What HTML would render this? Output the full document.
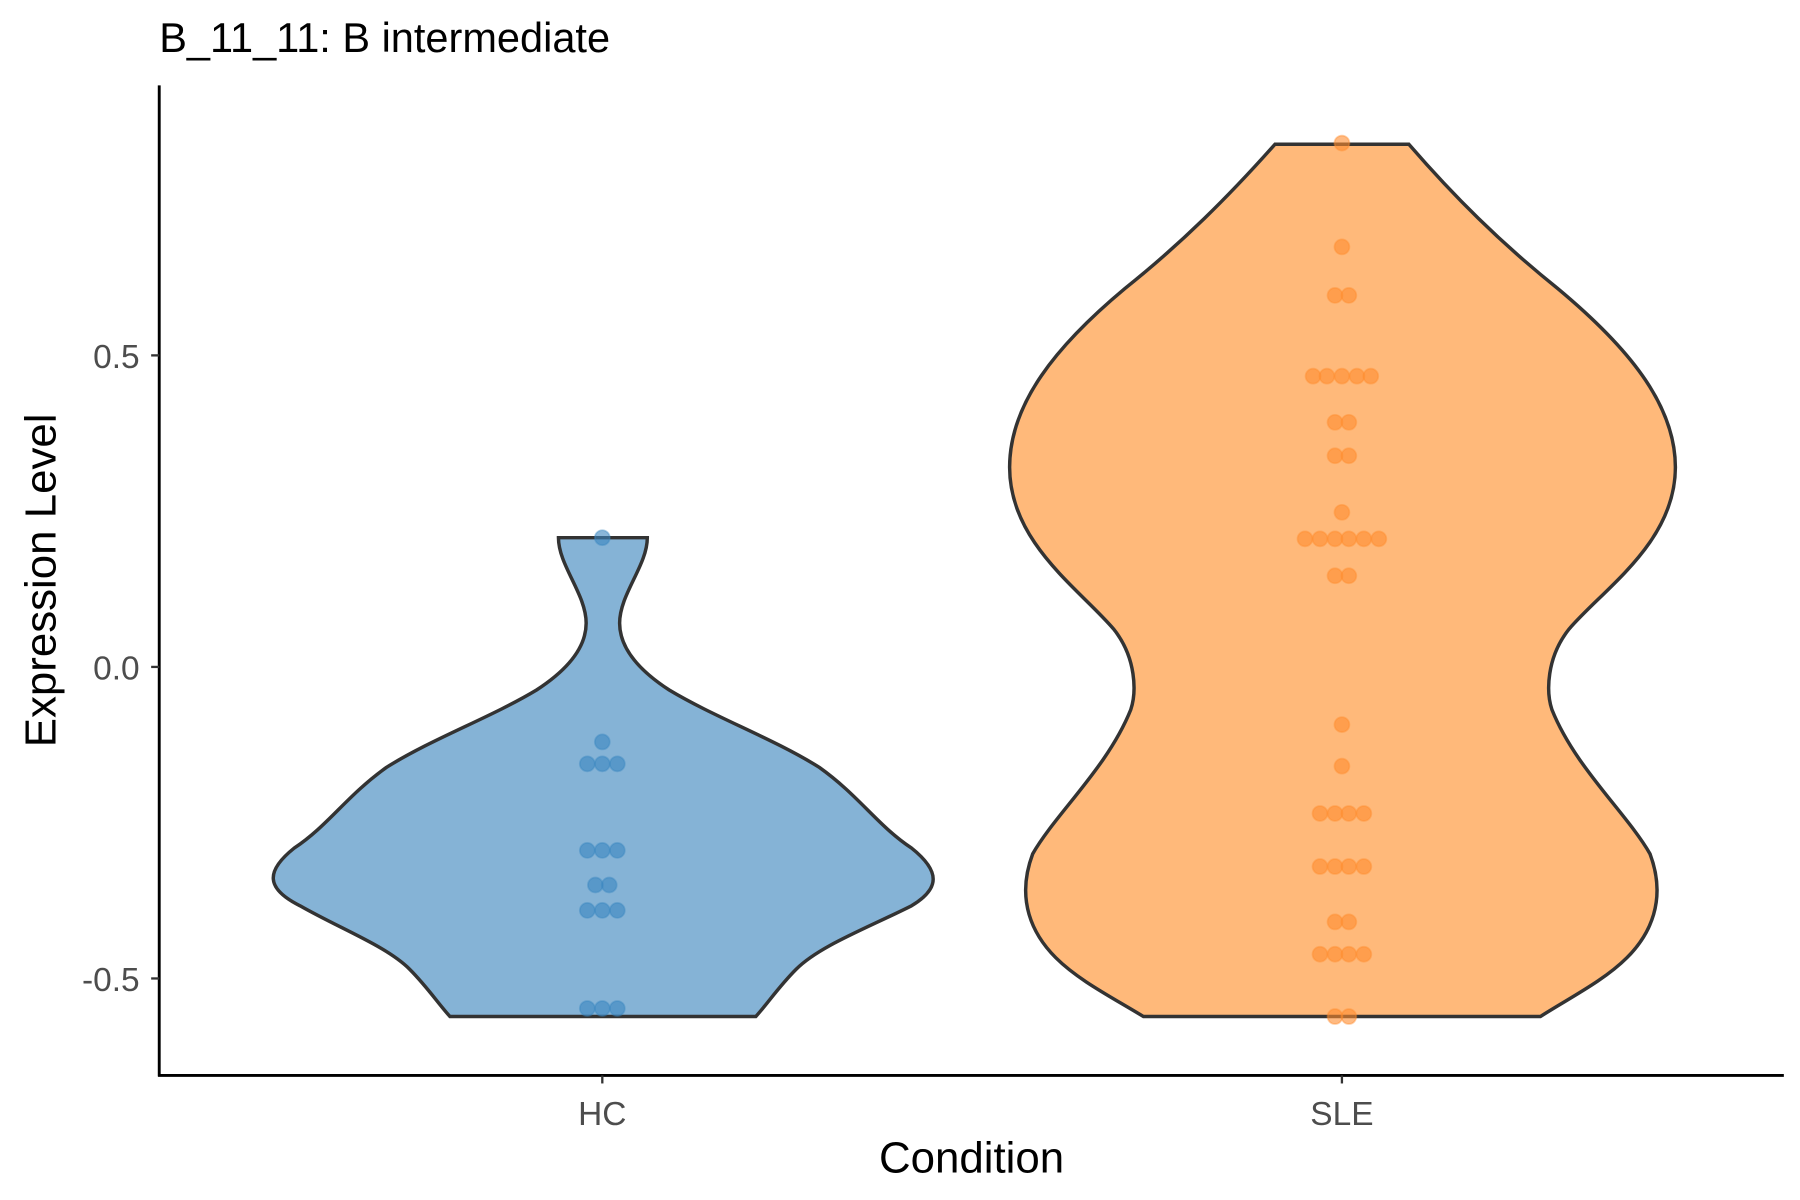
<!DOCTYPE html>
<html><head><meta charset="utf-8"><style>html,body{margin:0;padding:0;background:#fff}svg{display:block}</style></head>
<body>
<svg width="1800" height="1200" viewBox="0 0 1560 1040" xmlns="http://www.w3.org/2000/svg" font-family="Liberation Sans, Arial, sans-serif">
<rect width="1560" height="1040" fill="#fff"/>
<text x="138" y="45" font-size="36" fill="#000">B_11_11: B intermediate</text>
<!-- HC violin -->
<path d="M484,466 L561,466 C561,490 537,515 537,540 C537,565 560,585 580,598 C620,622 670,640 710,665 C745,690 760,715 790,735 C815,755 815,770 790,785 C750,805 710,820 690,840 C675,855 665,870 655,881 L390,881 C380,870 370,855 355,840 C335,820 295,805 260,785 C230,770 230,755 255,735 C285,715 300,690 335,665 C375,640 425,622 465,598 C485,585 508,565 508,540 C508,515 484,490 484,466 Z" fill="#85b3d6" stroke="#333" stroke-width="3"/>
<!-- SLE violin -->
<path d="M1105,125 L1221,125 C1260,170 1300,210 1350,250 C1410,300 1452,350 1452,405 C1452,470 1390,510 1360,545 C1340,570 1340,600 1345,615 C1365,665 1410,705 1430,740 C1445,780 1430,810 1410,830 C1390,850 1360,865 1335,881 L991,881 C965,865 935,850 915,830 C895,810 880,780 895,740 C915,705 960,665 980,615 C985,600 985,570 965,545 C935,510 875,470 875,405 C875,350 915,300 975,250 C1025,210 1065,170 1105,125 Z" fill="#ffb97a" stroke="#333" stroke-width="3"/>
<!-- HC dots -->
<g fill="#3a86c0" fill-opacity="0.6" stroke="#3a86c0" stroke-opacity="0.4" stroke-width="1.5">
<circle cx="522" cy="466" r="6.5"/>
<circle cx="522" cy="643" r="6.5"/>
<circle cx="509" cy="662" r="6.5"/><circle cx="522" cy="662" r="6.5"/><circle cx="535" cy="662" r="6.5"/>
<circle cx="509" cy="737" r="6.5"/><circle cx="522" cy="737" r="6.5"/><circle cx="535" cy="737" r="6.5"/>
<circle cx="516" cy="767" r="6.5"/><circle cx="528" cy="767" r="6.5"/>
<circle cx="509" cy="789" r="6.5"/><circle cx="522" cy="789" r="6.5"/><circle cx="535" cy="789" r="6.5"/>
<circle cx="509" cy="874" r="6.5"/><circle cx="522" cy="874" r="6.5"/><circle cx="535" cy="874" r="6.5"/>
</g>
<!-- SLE dots -->
<g fill="#ff8c2e" fill-opacity="0.6" stroke="#ff8c2e" stroke-opacity="0.4" stroke-width="1.5">
<circle cx="1163" cy="124" r="6.5"/>
<circle cx="1163" cy="214" r="6.5"/>
<circle cx="1157" cy="256" r="6.5"/><circle cx="1169" cy="256" r="6.5"/>
<circle cx="1138" cy="326" r="6.5"/><circle cx="1150" cy="326" r="6.5"/><circle cx="1163" cy="326" r="6.5"/><circle cx="1176" cy="326" r="6.5"/><circle cx="1188" cy="326" r="6.5"/>
<circle cx="1157" cy="366" r="6.5"/><circle cx="1169" cy="366" r="6.5"/>
<circle cx="1157" cy="395" r="6.5"/><circle cx="1169" cy="395" r="6.5"/>
<circle cx="1163" cy="444" r="6.5"/>
<circle cx="1131" cy="467" r="6.5"/><circle cx="1144" cy="467" r="6.5"/><circle cx="1157" cy="467" r="6.5"/><circle cx="1169" cy="467" r="6.5"/><circle cx="1182" cy="467" r="6.5"/><circle cx="1195" cy="467" r="6.5"/>
<circle cx="1157" cy="499" r="6.5"/><circle cx="1169" cy="499" r="6.5"/>
<circle cx="1163" cy="628" r="6.5"/>
<circle cx="1163" cy="664" r="6.5"/>
<circle cx="1144" cy="705" r="6.5"/><circle cx="1157" cy="705" r="6.5"/><circle cx="1169" cy="705" r="6.5"/><circle cx="1182" cy="705" r="6.5"/>
<circle cx="1144" cy="751" r="6.5"/><circle cx="1157" cy="751" r="6.5"/><circle cx="1169" cy="751" r="6.5"/><circle cx="1182" cy="751" r="6.5"/>
<circle cx="1157" cy="799" r="6.5"/><circle cx="1169" cy="799" r="6.5"/>
<circle cx="1144" cy="827" r="6.5"/><circle cx="1157" cy="827" r="6.5"/><circle cx="1169" cy="827" r="6.5"/><circle cx="1182" cy="827" r="6.5"/>
<circle cx="1157" cy="881" r="6.5"/><circle cx="1169" cy="881" r="6.5"/>
</g>
<!-- axes -->
<g stroke="#000" stroke-width="2.5" fill="none">
<line x1="138" y1="74" x2="138" y2="933"/>
<line x1="137" y1="932" x2="1546" y2="932"/>
</g>
<g stroke="#333" stroke-width="2">
<line x1="131" y1="308" x2="138" y2="308"/>
<line x1="131" y1="578" x2="138" y2="578"/>
<line x1="131" y1="848" x2="138" y2="848"/>
<line x1="522" y1="932" x2="522" y2="939"/>
<line x1="1163" y1="932" x2="1163" y2="939"/>
</g>
<g font-size="29" fill="#4d4d4d" text-anchor="end">
<text x="121" y="319">0.5</text>
<text x="121" y="589">0.0</text>
<text x="121" y="859">-0.5</text>
</g>
<g font-size="29" fill="#4d4d4d" text-anchor="middle">
<text x="522" y="975">HC</text>
<text x="1163" y="975">SLE</text>
</g>
<text x="842" y="1016" font-size="38" text-anchor="middle" fill="#000">Condition</text>
<text transform="translate(48,503) rotate(-90)" font-size="38" text-anchor="middle" fill="#000">Expression Level</text>
</svg>
</body></html>
